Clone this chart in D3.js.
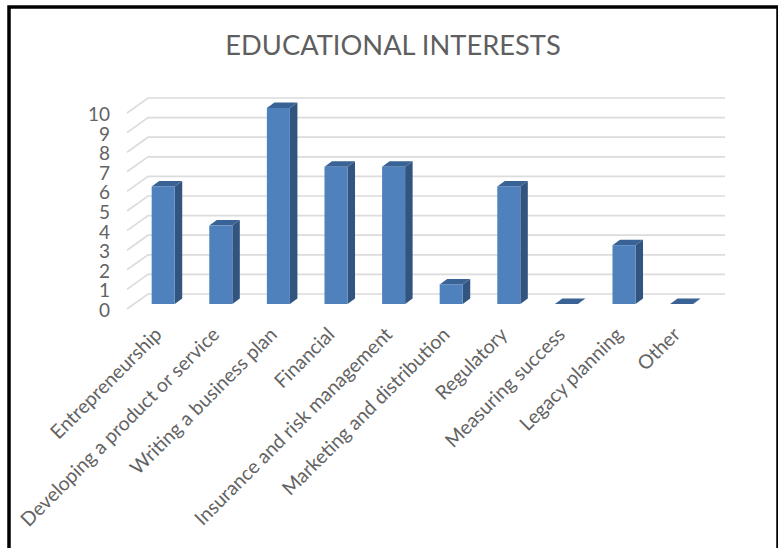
<!DOCTYPE html>
<html>
<head>
<meta charset="UTF-8">
<title>Educational Interests</title>
<script src="https://d3js.org/d3.v7.min.js"></script>
<style>
    html, body {margin: 0; padding: 0; background: #fff;}
    svg {display: block; font-family: Lato, "Open Sans", sans-serif;}
    .tick text {fill: #636363;}
</style>
</head>
<body>
<div id="chart"></div>
<script>
// values
var categories = ["Entrepreneurship", "Developing a product or service", "Writing a business plan",
    "Financial", "Insurance and risk management", "Marketing and distribution",
    "Regulatory", "Measuring success", "Legacy planning", "Other"];
var interestCounts = [6, 4, 10, 7, 7, 1, 6, 0, 3, 0];
var yTicks = [0, 1, 2, 3, 4, 5, 6, 7, 8, 9, 10];
var chartTitle = "EDUCATIONAL INTERESTS";

var svg = d3.select("#chart").append("svg")
    .attr("width", 778)
    .attr("height", 548);

// black frame round the chart, bottom edge is cut off by the picture
svg.append("rect")
    .attr("x", 9)
    .attr("y", 7)
    .attr("width", 769)
    .attr("height", 560)
    .attr("fill", "#fff")
    .attr("stroke", "#000")
    .attr("stroke-width", 3.5);

svg.append("text")
    .attr("x", 393)
    .attr("y", 55)
    .attr("text-anchor", "middle")
    .attr("font-size", 27.3)
    .attr("fill", "#5f5f5f")
    .text(chartTitle);

// bar fronts sit on these scales
var xScale = d3.scaleBand()
    .domain(categories)
    .range([134.4, 710.4])
    .paddingInner(0.6)
    .paddingOuter(0.3);

var yScale = d3.scaleLinear()
    .domain([0, 10])
    .range([304, 108]);

// 3D offsets
var wallDx = 21, wallDy = 15;    // side wall, front edge to back edge
var barDx = 7.5, barDy = 5.5;    // depth of a bar

var leftX = 127;
var rightX = 725;

// gridlines: side wall diagonal and back wall line
var grid = svg.append("g");
grid.selectAll("path")
    .data(yTicks)
    .enter()
    .append("path")
    .attr("d", function(d){
        var y = yScale(d) + 5;
        return "M" + leftX + "," + y + "L" + (leftX + wallDx) + "," + (y - wallDy) + "L" + rightX + "," + (y - wallDy);
    })
    .attr("fill", "none")
    .attr("stroke", "#dcdcdc")
    .attr("stroke-width", 1.7);

var bars = svg.selectAll(".bar")
    .data(interestCounts)
    .enter()
    .append("g")
    .attr("class", "bar");

// side face
bars.append("path")
    .attr("d", function(d,i){
        var x = xScale(categories[i]) + xScale.bandwidth();
        return "M" + x + "," + yScale(d) + "l" + barDx + "," + (-barDy) + "V" + (yScale(0) - barDy) + "L" + x + "," + yScale(0) + "Z";
    })
    .attr("fill", "#32557f");

// top face
bars.append("path")
    .attr("d", function(d,i){
        var x = xScale(categories[i]);
        return "M" + x + "," + yScale(d) + "l" + barDx + "," + (-barDy) + "h" + xScale.bandwidth() + "l" + (-barDx) + "," + barDy + "Z";
    })
    .attr("fill", "#3a6395");

// front face
bars.append("rect")
    .attr("x", function(d,i){ return xScale(categories[i]); })
    .attr("y", function(d){ return yScale(d); })
    .attr("width", xScale.bandwidth())
    .attr("height", function(d){ return yScale(0) - yScale(d); })
    .attr("fill", "#4f81bd");

// y axis labels
var yAxis = d3.axisLeft(yScale)
    .tickValues(yTicks)
    .tickSize(0)
    .tickPadding(17);

svg.append("g")
    .attr("transform", "translate(" + leftX + ",6.5)")
    .call(yAxis)
    .call(function(g){ g.select(".domain").remove(); })
    .selectAll("text")
    .attr("font-size", 19)
    .attr("font-family", "Lato, sans-serif");

// category labels, turned 45 degrees
var xAxis = d3.axisBottom(xScale)
    .tickSize(0)
    .tickPadding(0);

svg.append("g")
    .attr("transform", "translate(-5,331)")
    .call(xAxis)
    .call(function(g){ g.select(".domain").remove(); })
    .selectAll("text")
    .attr("font-size", 19.5)
    .attr("font-family", "Lato, sans-serif")
    .attr("text-anchor", "end")
    .attr("dy", "0.35em")
    .attr("transform", "rotate(-45)");
</script>
</body>
</html>
